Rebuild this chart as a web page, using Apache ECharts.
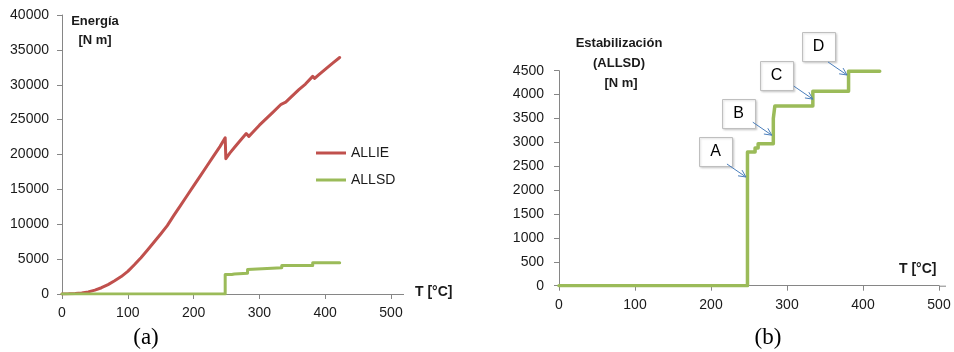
<!DOCTYPE html>
<html><head><meta charset="utf-8">
<script src="https://cdn.jsdelivr.net/npm/echarts@6/dist/echarts.min.js"></script>
<style>html,body{margin:0;padding:0;background:#fff}#c{width:954px;height:352px}</style>
</head><body><div id="c"></div>
<script>
// ALLIE (internal energy) vs temperature
const allieT = [0,10,20,30,40,50,60,70,80,90,100,110,120,130,140,150,160,170,180,190,200,210,220,230,240,248,249,255,262,270,280,281.5,284,290,300,310,320,333,335,340,350,360,370,381,384,390,400,410,422];
const allieE = [0,20,70,150,300,550,900,1350,1900,2500,3250,4200,5200,6300,7450,8600,9800,11270,12680,14090,15500,16900,18310,19720,21130,22400,19400,20200,21000,21900,23000,23150,22600,23200,24200,25100,26000,27200,27000,27500,28400,29300,30100,31200,30900,31400,32200,33000,33900];
// ALLSD (stabilization energy) – step values, change at given T
const allsdT = [0,248,258,262,282,284,334,381,422];
const allsdE = [0,2800,2880,2970,3500,3760,4070,4490,4490];
// axis ticks
const xMax = 500, xStep = 100;
const yMaxA = 40000, yStepA = 5000;
const yMaxB = 4500, yStepB = 500;
// annotations (data coordinates of arrow tips)
const annoLabels = ['A','B','C','D'];
const annoT = [246,280,334,379];
const annoE = [2275,3150,3905,4410];

const RED = '#c0504d', GREEN = '#9bbb59', AX = '#868686', TXT = '#1a1a1a';
const FONT = '"Liberation Sans", Arial, sans-serif';
const pairs = (xs, ys) => xs.map((x,i)=>[x, ys[i]]);

const axisCommon = {
  axisLine:{show:true, lineStyle:{color:AX, width:1}},
  axisTick:{show:true, inside:false, length:5, lineStyle:{color:AX}},
  splitLine:{show:false},
  axisLabel:{color:TXT, fontSize:14, fontFamily:FONT, formatter:v=>String(v)}
};

const chart = echarts.init(document.getElementById('c'));
const option = {
  animation:false,
  backgroundColor:'#fff',
  grid:[
    {left:62, top:15, width:329, height:279},
    {left:559, top:70.7, width:380, height:215}
  ],
  xAxis:[
    Object.assign({}, axisCommon, {type:'value', gridIndex:0, min:0, max:xMax, interval:xStep,
      axisLabel:Object.assign({}, axisCommon.axisLabel, {margin:12})}),
    Object.assign({}, axisCommon, {type:'value', gridIndex:1, min:0, max:xMax, interval:xStep,
      axisLabel:Object.assign({}, axisCommon.axisLabel, {margin:12})})
  ],
  yAxis:[
    Object.assign({}, axisCommon, {type:'value', gridIndex:0, min:0, max:yMaxA, interval:yStepA,
      axisLabel:Object.assign({}, axisCommon.axisLabel, {margin:13})}),
    Object.assign({}, axisCommon, {type:'value', gridIndex:1, min:0, max:yMaxB, interval:yStepB,
      axisLabel:Object.assign({}, axisCommon.axisLabel, {margin:15})})
  ],
  legend:{
    data:['ALLIE','ALLSD'], orient:'vertical', left:311, top:140,
    icon:'rect', itemWidth:30, itemHeight:3, itemGap:11,
    textStyle:{color:TXT, fontSize:14, fontFamily:FONT, lineHeight:16}
  },
  series:[
    {name:'ALLIE', type:'line', xAxisIndex:0, yAxisIndex:0, showSymbol:false, symbol:'none',
      data:pairs(allieT, allieE), lineStyle:{color:RED, width:3, cap:'round', join:'round'}, itemStyle:{color:RED}},
    {name:'ALLSD', type:'line', xAxisIndex:0, yAxisIndex:0, showSymbol:false, symbol:'none', step:'end',
      data:pairs(allsdT, allsdE), lineStyle:{color:GREEN, width:3, cap:'round', join:'round'}, itemStyle:{color:GREEN}},
    {name:'ALLSD (b)', type:'line', xAxisIndex:1, yAxisIndex:1, showSymbol:false, symbol:'none', step:'end',
      data:pairs(allsdT, allsdE), lineStyle:{color:GREEN, width:3.5, cap:'round', join:'round'}, itemStyle:{color:GREEN}}
  ]
};
chart.setOption(option);

const txt = (x, y, s, opt) => ({type:'text', x, y, style:Object.assign({text:s, fill:TXT, font:'bold 13px '+FONT, textAlign:'center', textVerticalAlign:'middle'}, opt||{}), z:10});
const g = [
  txt(95, 21, 'Energía'),
  txt(95, 40, '[N m]'),
  txt(415, 292, 'T [°C]', {textAlign:'left', font:'bold 14px '+FONT}),
  txt(619, 43, 'Estabilización'),
  txt(619, 63, '(ALLSD)'),
  txt(621, 83, '[N m]'),
  txt(899, 269, 'T [°C]', {textAlign:'left', font:'bold 14px '+FONT}),
  txt(146, 338, '(a)', {font:'23px "Liberation Serif", "Times New Roman", serif', fill:'#000'}),
  txt(768, 338, '(b)', {font:'23px "Liberation Serif", "Times New Roman", serif', fill:'#000'})
];
// axis extensions past last tick
[[0,13],[1,7]].forEach(([gi, ext])=>{
  const p = chart.convertToPixel({gridIndex:gi}, [xMax, 0]);
  g.push({type:'line', shape:{x1:p[0], y1:p[1]+0.5, x2:p[0]+ext, y2:p[1]+0.5}, style:{stroke:AX, lineWidth:1}, z:1});
});
// annotation boxes and arrows (box offsets in px relative to arrow tip)
const boxDX = [-47,-50,-53,-45], boxDY = [-40,-36,-38,-43];
annoLabels.forEach((L,i)=>{
  const p = chart.convertToPixel({gridIndex:1}, [annoT[i], annoE[i]]);
  const tx = p[0], ty = p[1];
  const sx = tx - 19, sy = ty - 13;
  const bx = Math.round(tx + boxDX[i]), by = Math.round(ty + boxDY[i]);
  g.push({type:'rect', shape:{x:bx+0.5, y:by+0.5, width:33, height:29},
    style:{fill:'#fff', stroke:'#bfbfbf', lineWidth:1, shadowBlur:2, shadowColor:'rgba(0,0,0,0.15)', shadowOffsetX:1, shadowOffsetY:1}, z:20});
  g.push({type:'text', x:bx+16.5, y:by+15, style:{text:L, fill:'#000', font:'16px '+FONT, textAlign:'center', textVerticalAlign:'middle'}, z:21});
  const a = Math.atan2(ty-sy, tx-sx), h = 8, w = 0.45;
  g.push({type:'polyline', shape:{points:[[sx,sy],[tx,ty]]}, style:{stroke:'#4a7ebb', lineWidth:1, fill:null}, z:22});
  g.push({type:'polyline', shape:{points:[[tx-h*Math.cos(a-w), ty-h*Math.sin(a-w)],[tx,ty],[tx-h*Math.cos(a+w), ty-h*Math.sin(a+w)]]},
    style:{stroke:'#4a7ebb', lineWidth:1, fill:null}, z:22});
});
chart.setOption({graphic:g});
</script></body></html>
